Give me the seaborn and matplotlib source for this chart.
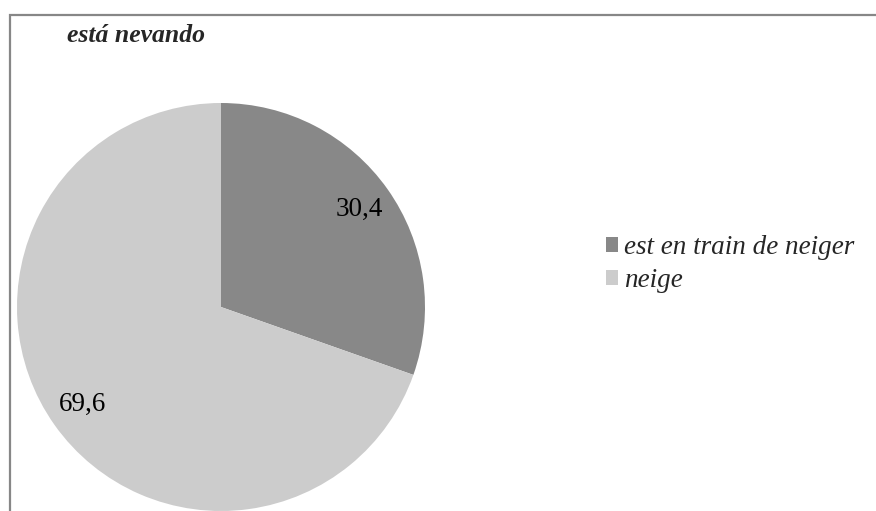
import matplotlib
matplotlib.use("Agg")
import matplotlib.pyplot as plt
import seaborn as sns
from matplotlib.patches import Rectangle, Patch

# Daten
categories = ["est en train de neiger", "neige"]
values = [30.4, 69.6]
colors = ["#888888", "#cccccc"]
title = "está nevando"

sns.set_style("white")
plt.rcParams["font.family"] = ["Liberation Serif", "DejaVu Serif"]

W, H = 876, 511
fig = plt.figure(figsize=(W / 100, H / 100), dpi=100)

# Rahmen (rechts und unten abgeschnitten)
fig.patches.append(Rectangle((9.5 / W, -0.1), 1.2, 1.1 - 15.5 / H, transform=fig.transFigure,
                             fill=False, edgecolor="#878787", linewidth=1.6, zorder=0))

ax = fig.add_axes([17 / W, 0.0, 408 / W, 408 / H])
wedges, texts, autotexts = ax.pie(
    values, colors=colors, startangle=90, counterclock=False, radius=1,
    autopct=lambda p: f"{p:.1f}".replace(".", ","), pctdistance=0.83,
    wedgeprops={"linewidth": 0},
    textprops={"fontsize": 19.5, "color": "black"},
)
ax.set_xlim(-1, 1)
ax.set_ylim(-1, 1)
ax.set_aspect("equal")
ax.axis("off")

fig.text(136 / W, 1 - 36 / H, title, ha="center", va="center", fontsize=18.5,
         fontweight="bold", fontstyle="italic")

handles = [Patch(facecolor=c, edgecolor="none") for c in colors]
leg = fig.legend(handles, categories, loc="center left", bbox_to_anchor=(606 / W, 1 - 264 / H),
                 frameon=False, borderpad=0, borderaxespad=0, handlelength=0.45, handleheight=0.45,
                 handletextpad=0.22, labelspacing=0.3, prop={"size": 19.5, "style": "italic"})

fig.savefig("out.png", dpi=100)
